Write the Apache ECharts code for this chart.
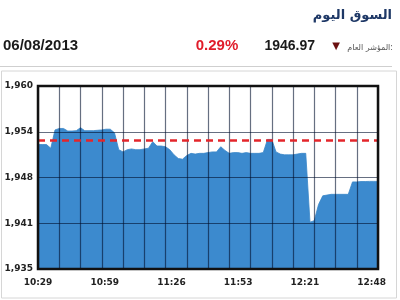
<!DOCTYPE html>
<html><head><meta charset="utf-8">
<script src="https://cdn.jsdelivr.net/npm/echarts@6/dist/echarts.min.js"></script>
<style>html,body{margin:0;padding:0;background:#fff}#c{width:400px;height:300px}</style>
</head><body><div id="c"></div>
<script>
const titleText = 'السوق اليوم';
const dateText = '06/08/2013';
const changeText = '0.29%';
const indexText = '1946.97';
const indexLabel = 'المؤشر العام:';
const timeLabels = ['10:29', '10:59', '11:26', '11:53', '12:21', '12:48'];
const prevClose = 1952.63;
const yMin = 1935, yMax = 1960, yStep = 6.25;
const values = [
  1952.0, 1952.0, 1952.0, 1951.5, 1954.0, 1954.2, 1954.2, 1953.85, 1953.85, 1953.9,
  1954.3, 1953.9, 1953.9, 1953.9, 1953.95, 1954.0, 1954.1, 1954.1, 1953.6, 1951.3,
  1951.0, 1951.3, 1951.4, 1951.3, 1951.3, 1951.4, 1951.5, 1952.4, 1951.8, 1951.8,
  1951.7, 1951.3, 1950.6, 1950.1, 1950.0, 1950.5, 1950.8, 1950.7, 1950.8, 1950.8,
  1950.9, 1951.0, 1951.0, 1951.7, 1951.2, 1950.8, 1950.9, 1950.9, 1950.8, 1950.9,
  1950.8, 1950.8, 1950.8, 1950.9, 1952.7, 1952.7, 1951.0, 1950.7, 1950.6, 1950.6,
  1950.6, 1950.7, 1950.8, 1950.8, 1941.4, 1941.6, 1943.8, 1945.0, 1945.1, 1945.2,
  1945.2, 1945.2, 1945.2, 1945.2, 1946.9, 1946.9, 1946.95, 1946.95, 1946.97, 1946.97,
  1946.97
];
const nPts = values.length - 1;
const labelStep = nPts * 0.19625;

const chart = echarts.init(document.getElementById('c'), null, {renderer: 'canvas'});
const font = 'DejaVu Sans';
const gridColor = 'rgba(0,15,45,0.6)';
chart.setOption({
  animation: false,
  backgroundColor: '#fff',
  grid: {left: 38, top: 86, right: 22, bottom: 31, show: true, z: 10,
         backgroundColor: 'transparent', borderColor: '#111', borderWidth: 2.5},
  xAxis: [{
    type: 'value', min: 0, max: nPts, interval: nPts / 16, z: 5,
    axisLine: {show: false}, axisTick: {show: false}, axisLabel: {show: false},
    splitLine: {show: true, lineStyle: {color: gridColor, width: 1.2}}
  }, {
    type: 'value', min: 0, max: nPts, interval: labelStep, position: 'bottom',
    axisLine: {show: false}, axisTick: {show: false}, splitLine: {show: false},
    axisLabel: {
      formatter: v => {
        const k = v / labelStep;
        return Math.abs(k - Math.round(k)) < 0.01 ? timeLabels[Math.round(k)] : '';
      },
      showMaxLabel: false, hideOverlap: false,
      margin: 9, color: '#222', fontFamily: font, fontWeight: 'bold', fontSize: 9
    }
  }],
  yAxis: {
    type: 'value', min: yMin, max: yMax, interval: yStep, z: 5,
    axisLine: {show: false}, axisTick: {show: false},
    splitLine: {show: true, lineStyle: {color: gridColor, width: 1.2}},
    axisLabel: {
      formatter: v => Math.round(v).toLocaleString('en-US'),
      margin: 5, color: '#222', fontFamily: font, fontWeight: 'bold', fontSize: 9
    }
  },
  series: [{
    type: 'line',
    xAxisIndex: 0,
    data: values.map((v, i) => [i, v]),
    symbol: 'none',
    lineStyle: {width: 0.8, color: '#3a87c8'},
    areaStyle: {color: '#3c8ace', opacity: 1, origin: 'start'},
    markLine: {
      silent: true, symbol: 'none', label: {show: false},
      lineStyle: {color: '#e3262b', type: [7, 5], width: 2.5},
      data: [{yAxis: prevClose}]
    }
  }],
  graphic: [
    {type: 'rect', shape: {x: 1.5, y: 71, width: 395, height: 227},
     style: {fill: 'none', stroke: '#d6d6d6', lineWidth: 1}},
    {type: 'line', shape: {x1: 0, y1: 66.5, x2: 392, y2: 66.5},
     style: {stroke: '#cfcfcf', lineWidth: 1}},
    {type: 'text', x: 392, y: 16,
     style: {text: titleText, align: 'right', verticalAlign: 'middle',
             font: 'bold 13px "DejaVu Sans"', fill: '#1e3866'}},
    {type: 'text', x: 3, y: 46,
     style: {text: dateText, align: 'left', verticalAlign: 'middle',
             font: 'bold 15px "Liberation Sans"', fill: '#1a1a1a'}},
    {type: 'text', x: 217, y: 46,
     style: {text: changeText, align: 'center', verticalAlign: 'middle',
             font: 'bold 15px "Liberation Sans"', fill: '#e01c2a'}},
    {type: 'text', x: 315, y: 46,
     style: {text: indexText, align: 'right', verticalAlign: 'middle',
             font: 'bold 14px "Liberation Sans"', fill: '#1a1a1a'}},
    {type: 'text', x: 336, y: 46,
     style: {text: '▼', align: 'center', verticalAlign: 'middle',
             font: '10px "DejaVu Sans"', fill: '#6b1010'}},
    {type: 'text', x: 393, y: 48,
     style: {text: indexLabel, align: 'right', verticalAlign: 'middle',
             font: '8px "DejaVu Sans"', fill: '#555'}}
  ]
});
</script>
</body></html>
